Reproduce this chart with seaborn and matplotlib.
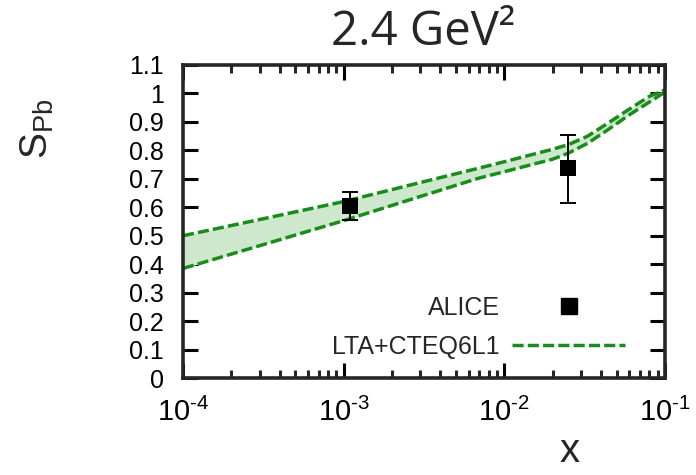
import numpy as np
import pandas as pd
import seaborn as sns
import matplotlib.pyplot as plt
from matplotlib.lines import Line2D
from matplotlib.ticker import LogLocator, FixedLocator

# model band (LTA+CTEQ6L1), upper and lower edge
x_band = [1e-4, 3e-4, 1e-3, 3e-3, 7e-3, 1e-2, 2e-2, 2.5e-2, 3.3e-2, 4.4e-2, 6e-2, 8e-2, 1e-1]
band_upper = [0.50, 0.557, 0.62, 0.687, 0.738, 0.76, 0.804, 0.82, 0.85, 0.895, 0.945, 0.99, 1.012]
band_lower = [0.385, 0.465, 0.553, 0.638, 0.703, 0.725, 0.769, 0.79, 0.825, 0.872, 0.925, 0.97, 1.005]

# ALICE points
x_alice = [1.1e-3, 2.5e-2]
y_alice = [0.605, 0.738]
err_lo = [0.05, 0.124]
err_hi = [0.048, 0.116]

yticks = [0, 0.1, 0.2, 0.3, 0.4, 0.5, 0.6, 0.7, 0.8, 0.9, 1.0, 1.1]
ytick_labels = ['0', '0.1', '0.2', '0.3', '0.4', '0.5', '0.6', '0.7', '0.8', '0.9', '1', '1.1']
xticks = [1e-4, 1e-3, 1e-2, 1e-1]
xtick_labels = ['10$^{\\text{-4}}$', '10$^{\\text{-3}}$',
                '10$^{\\text{-2}}$', '10$^{\\text{-1}}$']

title = '2.4 GeV²'

sns.set_style('ticks')
plt.rcParams['font.family'] = ['Liberation Sans', 'DejaVu Sans']
plt.rcParams['mathtext.fontset'] = 'custom'
plt.rcParams['mathtext.rm'] = 'Liberation Sans'
plt.rcParams['mathtext.it'] = 'Liberation Sans'

fig = plt.figure(figsize=(6.96, 4.75), dpi=100)
ax = fig.add_axes([183/696, 1 - 378/475, 482/696, 313/475])

green = '#1a8c1a'
lw = 2.5
dash = (3.2, 1.2)
ax.fill_between(x_band, band_lower, band_upper, color='#cde8cd', lw=0, zorder=1)
sns.lineplot(x=x_band, y=band_upper, ax=ax, color=green, lw=lw, zorder=2)
sns.lineplot(x=x_band, y=band_lower, ax=ax, color=green, lw=lw, zorder=2)
for ln in ax.lines:
    ln.set_dashes(dash)

ax.errorbar(x_alice, y_alice, yerr=[err_lo, err_hi], fmt='none',
            ecolor='black', elinewidth=1.4, capsize=5.5, capthick=1.4, zorder=3)
df = pd.DataFrame({'x': x_alice, 'y': y_alice})
sns.scatterplot(data=df, x='x', y='y', ax=ax, marker='s', s=135,
                color='black', edgecolor='black', linewidth=0, zorder=4)

ax.set_xscale('log')
ax.set_xlim(1e-4, 1e-1)
ax.set_ylim(0, 1.1)
ax.yaxis.set_major_locator(FixedLocator(yticks))
ax.set_yticklabels(ytick_labels)
ax.xaxis.set_major_locator(FixedLocator(xticks))
ax.set_xticklabels(xtick_labels)
ax.xaxis.set_minor_locator(LogLocator(base=10, subs=np.arange(2, 10), numticks=20))

for s in ax.spines.values():
    s.set_linewidth(2.6)
    s.set_visible(True)
ax.tick_params(which='major', direction='in', length=11, width=2.2,
               top=True, right=True, colors='black')
ax.tick_params(which='minor', direction='in', length=6, width=2.2,
               top=True, right=True)
ax.tick_params(axis='x', which='major', labelsize=21, pad=14)
ax.tick_params(axis='y', which='major', labelsize=18, pad=14)

ax.set_xlabel('x', fontsize=29)
ax.xaxis.set_label_coords((570 - 183) / 482, -0.172)
ax.set_ylabel('S$_{\\mathregular{Pb}}$', fontsize=28)
ax.yaxis.set_label_coords((56 - 183) / 482, 0.795)

fig.text(423/696, 1 - 45/475, title, ha='center', va='baseline',
         fontsize=34, family=['Open Sans', 'DejaVu Sans'])

h_alice = Line2D([], [], marker='s', color='black', markersize=11.5, lw=0)
h_model = Line2D([], [], color=green, lw=lw, dashes=dash)
ax.legend(handles=[h_alice, h_model], labels=['ALICE', 'LTA+CTEQ6L1'],
          markerfirst=False, frameon=False, fontsize=18, handlelength=4.5,
          handletextpad=0.5, labelspacing=0.6, loc='lower right',
          bbox_to_anchor=(0.917, 0.06), borderaxespad=0, borderpad=0)

fig.savefig('out.png', dpi=100)
